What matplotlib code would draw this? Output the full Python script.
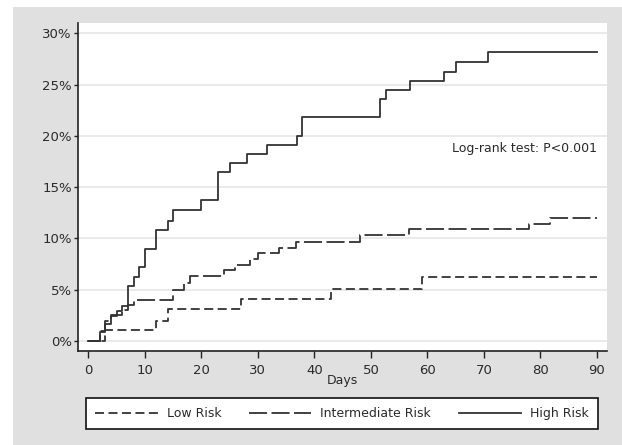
import numpy as np
import matplotlib.pyplot as plt
from matplotlib.patches import Rectangle
from matplotlib.ticker import PercentFormatter

plt.rcParams['font.family'] = ['DejaVu Sans']
plt.rcParams['lines.scale_dashes'] = False

# cumulative incidence (%), step changes at these days
low_days = [0, 3, 12, 14, 27, 43, 59, 90]
low_pct = [0, 1.1, 2.0, 3.1, 4.1, 5.1, 6.2, 6.2]

mid_days = [0, 2, 3, 4, 6, 7, 8, 15, 17, 18, 24, 26, 28.6, 30, 33.8, 36.8, 48, 56.7, 78, 81.7, 90]
mid_pct = [0, 1.0, 2.0, 2.5, 3.0, 3.5, 4.0, 5.0, 5.7, 6.3, 6.9, 7.4, 8.0, 8.6, 9.1, 9.7, 10.3, 10.9, 11.4, 12.0, 12.0]

high_days = [0, 2, 3, 4, 5, 6, 7, 8, 9, 10, 12, 14, 15, 20, 23, 25, 28, 31.6, 36.9, 37.8, 51.6, 52.6, 57, 63, 65, 70.8, 90]
high_pct = [0, 0.9, 1.7, 2.4, 2.9, 3.4, 5.4, 6.2, 7.2, 9.0, 10.8, 11.7, 12.8, 13.7, 16.5, 17.4, 18.2, 19.1, 20.0, 21.8, 23.6, 24.5, 25.3, 26.2, 27.2, 28.2, 28.2]

labels = ['Low Risk', 'Intermediate Risk', 'High Risk']
yticks = [0, 5, 10, 15, 20, 25, 30]
xticks = [0, 10, 20, 30, 40, 50, 60, 70, 80, 90]

fig = plt.figure(figsize=(6.22, 4.45), dpi=100)
fig.patch.set_facecolor('white')
fig.patches.append(Rectangle((13/622, 0), 1 - 13/622, 1 - 7/445, transform=fig.transFigure,
                             facecolor='#e0e0e0', edgecolor='none', zorder=-1))

ax = fig.add_axes([78/622, 1 - 351/445, 529/622, 328/445])
ax.set_facecolor('white')

lc = '#333333'
ax.step(low_days, low_pct, where='post', color=lc, lw=1.3, dashes=(6.5, 3.2), label=labels[0])
ax.step(mid_days, mid_pct, where='post', color=lc, lw=1.3, dashes=(13, 3.2), label=labels[1])
ax.step(high_days, high_pct, where='post', color=lc, lw=1.3, label=labels[2])

ax.set_xlim(-1.85, 91.8)
ax.set_ylim(-0.97, 31)
ax.set_yticks(yticks)
ax.set_xticks(xticks)
ax.yaxis.set_major_formatter(PercentFormatter(decimals=0))
ax.grid(axis='y', color='#e6e6e6', lw=1.2)
ax.set_axisbelow(True)

for s in ['top', 'right']:
    ax.spines[s].set_visible(False)
for s in ['left', 'bottom']:
    ax.spines[s].set_color('#222222')
    ax.spines[s].set_linewidth(1.2)

ax.tick_params(axis='y', length=3, width=1, color='#222222', labelsize=9.5, labelcolor='#2a2a2a', pad=1.5)
ax.tick_params(axis='x', length=5, width=1, color='#222222', labelsize=9.5, labelcolor='#2a2a2a', pad=4)
ax.set_xlabel('Days', fontsize=9, color='#2a2a2a', labelpad=-2)

ax.text(90, 18.8, 'Log-rank test: P<0.001', ha='right', va='center', fontsize=9, color='#2a2a2a')

leg = fig.legend(loc='center', bbox_to_anchor=(86/622, 1 - 429/445, 512/622, 31/445),
                 mode='expand', ncol=3, fontsize=9, frameon=True, fancybox=False,
                 handlelength=5, handletextpad=0.7, columnspacing=2, borderaxespad=0,
                 borderpad=0.75, framealpha=1)
leg.get_frame().set_facecolor('white')
leg.get_frame().set_edgecolor('#111111')
leg.get_frame().set_linewidth(1.2)
for t in leg.get_texts():
    t.set_color('#2a2a2a')

fig.savefig('out.png', dpi=100)
